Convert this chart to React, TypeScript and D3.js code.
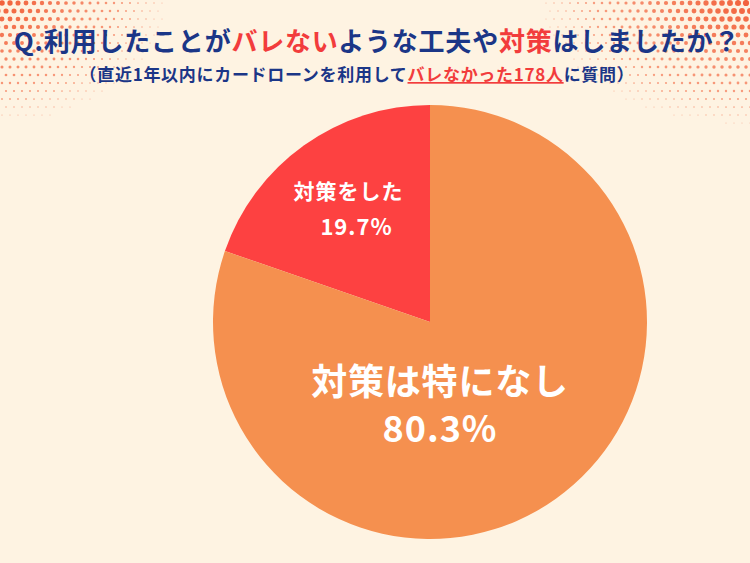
import React from "react";
import * as d3 from "d3";

const categories = ["対策をした", "対策は特になし"];
const values = [19.7, 80.3];
const valueLabels = ["19.7%", "80.3%"];
const titleParts = [
  { text: "Q.利用したことが", red: false },
  { text: "バレない", red: true },
  { text: "ような工夫や", red: false },
  { text: "対策", red: true },
  { text: "はしましたか？", red: false },
];
const subtitleParts = [
  { text: "（直近1年以内にカードローンを利用して", red: false },
  { text: "バレなかった178人", red: true },
  { text: "に質問）", red: false },
];

const W = 750;
const H = 563;
const FONT = "'Noto Sans CJK JP', 'Noto Sans', sans-serif";
const BLUE = "#1b3687";
const RED = "#f23c3c";
const SLICE_COLORS = ["#fd4141", "#f5904f"];

function halftone(cx: number, cy: number, rx: number, ry: number, maxR: number) {
  const dots: { x: number; y: number; r: number; o: number }[] = [];
  const step = 8;
  for (let row = 0; row * step < ry + 10; row++) {
    const y = row * step + 3;
    const off = row % 2 ? step / 2 : 0;
    for (let x = -step; x < W + step; x += step) {
      const px = x + off + 2;
      const dx = (px - cx) / rx;
      const dy = (y - cy) / ry;
      const d = Math.sqrt(dx * dx + dy * dy);
      if (d < 1) {
        const r = maxR * (1 - d * 0.85);
        if (r > 0.5) dots.push({ x: px, y, r, o: 0.45 + 0.55 * (1 - d) });
      }
    }
  }
  return dots;
}

export default function App() {
  const cx = 430;
  const cy = 322;
  const radius = 217;
  const start = -values[0] / 100 * 2 * Math.PI;
  const pie = d3.pie<number>().sort(null).startAngle(start).endAngle(start + 2 * Math.PI);
  const arcs = pie(values);
  const arc = d3.arc<d3.PieArcDatum<number>>().innerRadius(0).outerRadius(radius);
  const labelArc = d3.arc<d3.PieArcDatum<number>>().innerRadius(137).outerRadius(137);
  const c0 = labelArc.centroid(arcs[0]);

  const dotsL = halftone(0, 0, 170, 125, 2.8);
  const dotsR = halftone(W, 0, 210, 125, 3.2);

  return (
    <svg width={W} height={H} style={{ position: "absolute", left: 0, top: 0 }}>
      <rect width={W} height={H} fill="#fef3e2" />
      {[...dotsL, ...dotsR].map((d, i) => (
        <circle key={i} cx={d.x} cy={d.y} r={d.r} fill="#f2613a" fillOpacity={d.o} />
      ))}
      <text x={W / 2 + 2} y={51} textAnchor="middle" fontFamily={FONT} fontWeight={700} fontSize={26} letterSpacing={0.8}>
        {titleParts.map((p, i) => (
          <tspan key={i} fill={p.red ? RED : BLUE}>{p.text}</tspan>
        ))}
      </text>
      <text x={357} y={81} textAnchor="middle" fontFamily={FONT} fontWeight={700} fontSize={17} letterSpacing={0.7}>
        {subtitleParts.map((p, i) => (
          <tspan key={i} fill={p.red ? RED : BLUE} textDecoration={p.red ? "underline" : undefined}>{p.text}</tspan>
        ))}
      </text>
      <g transform={`translate(${cx},${cy})`}>
        {arcs.map((a, i) => (
          <path key={i} d={arc(a) || ""} fill={SLICE_COLORS[i]} />
        ))}
        <text x={c0[0] - 2} y={c0[1] - 11} textAnchor="middle" fill="#fff" fontFamily={FONT} fontWeight={700} fontSize={21} letterSpacing={1}>{categories[0]}</text>
        <text x={c0[0] + 6} y={c0[1] + 25} textAnchor="middle" fill="#fff" fontFamily={FONT} fontWeight={700} fontSize={22} letterSpacing={1}>{valueLabels[0]}</text>
        <text x={10} y={73} textAnchor="middle" fill="#fff" fontFamily={FONT} fontWeight={700} fontSize={36} letterSpacing={0.8}>{categories[1]}</text>
        <text x={10} y={120} textAnchor="middle" fill="#fff" fontFamily={FONT} fontWeight={700} fontSize={36} letterSpacing={1}>{valueLabels[1]}</text>
      </g>
    </svg>
  );
}
